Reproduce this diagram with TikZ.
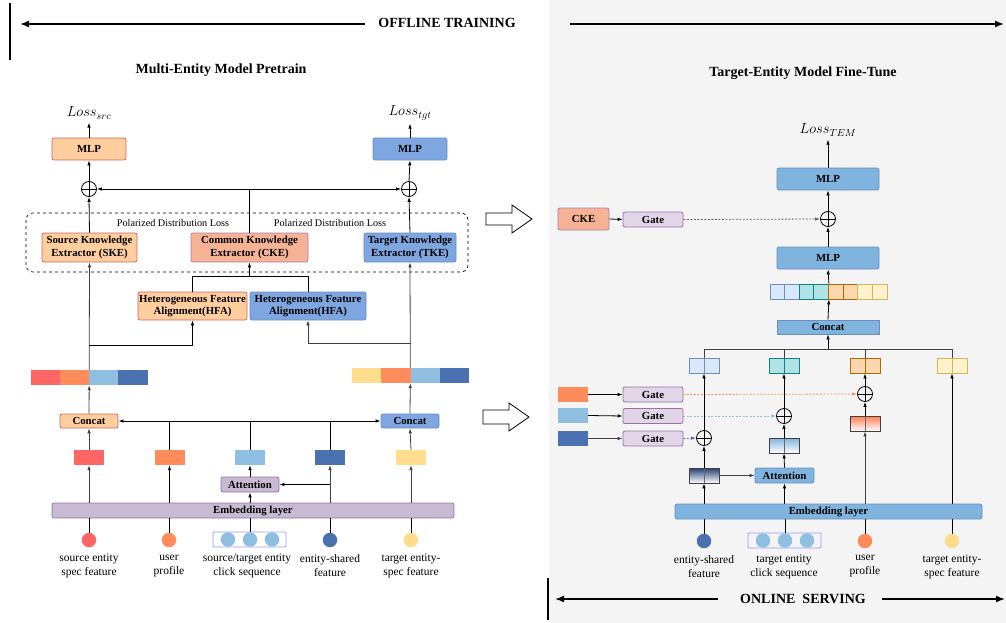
\RequirePackage{fix-cm}
\documentclass[tikz,border=0pt]{standalone}
\usepackage{fontspec}
\setmainfont{Liberation Serif}
\usetikzlibrary{arrows.meta,calc,positioning}
\definecolor{srcred}{HTML}{FF6666}
\definecolor{usrorange}{HTML}{FF8C5A}
\definecolor{seqblue}{HTML}{8FBFE0}
\definecolor{sharedblue}{HTML}{4A72B0}
\definecolor{tgtyellow}{HTML}{FFDD8C}
\definecolor{peachfill}{HTML}{FFCE9F}
\definecolor{peachdraw}{HTML}{CC6666}
\definecolor{tkefill}{HTML}{7EA6E0}
\definecolor{tkedraw}{HTML}{6C8EBF}
\definecolor{ckefill}{HTML}{F5B294}
\definecolor{ckedraw}{HTML}{A680B8}
\definecolor{lilac}{HTML}{C8BAD2}
\definecolor{lilacdraw}{HTML}{9673A6}
\definecolor{ftblue}{HTML}{7EB4DE}
\definecolor{gatefill}{HTML}{E1D5E7}
\definecolor{panelgray}{HTML}{F4F4F4}
\definecolor{seqframe}{HTML}{9999FF}
\definecolor{cellblue}{HTML}{DAE8FC}
\definecolor{cellteal}{HTML}{B0E3E6}
\definecolor{tealdraw}{HTML}{0E8088}
\definecolor{cellorange}{HTML}{FAD7AC}
\definecolor{orangedraw}{HTML}{B46504}
\definecolor{cellyellow}{HTML}{FFF2CC}
\definecolor{yellowdraw}{HTML}{D6B656}
\definecolor{navytop}{HTML}{233E72}
\definecolor{salmontop}{HTML}{FF7F55}
\newcommand{\boxfont}{\fontsize{10.8}{12.5}\selectfont\bfseries}
\newcommand{\labfont}{\fontsize{11.5}{14}\selectfont}
\newcommand{\titlefont}{\fontsize{14}{16}\selectfont\bfseries}
\newcommand{\lossfont}{\fontsize{14.5}{16}\selectfont}

\tikzset{
  box/.style={draw, rounded corners=2pt, inner sep=0pt, align=center,
    font=\boxfont, line width=0.8pt},
  srcbox/.style={box, fill=peachfill, draw=peachdraw},
  tgtbox/.style={box, fill=tkefill, draw=tkedraw},
  lilacbox/.style={box, fill=lilac, draw=lilacdraw},
  ftbox/.style={box, fill=ftblue, draw=tkedraw},
  gatebox/.style={box, fill=gatefill, draw=lilacdraw,
    minimum width=60pt, minimum height=15pt},
  feat/.style={minimum width=30pt, minimum height=15pt, inner sep=0pt, fill=#1},
  split/.style={path picture={\draw[#1, line width=0.8pt]
    (path picture bounding box.north) -- (path picture bounding box.south);}},
  cell/.style 2 args={minimum width=30pt, minimum height=15pt, inner sep=0pt,
    fill=#1, draw=#2, line width=0.8pt, split=#2},
  gradbox/.style={minimum width=30pt, minimum height=15pt, inner sep=0pt,
    draw=black!75, line width=0.8pt, top color=#1, bottom color=white, split=black!60},
  dot/.style={circle, minimum size=14.5pt, inner sep=0pt, fill=#1},
  sum/.style={circle, draw, minimum size=15pt, inner sep=0pt, line width=0.8pt,
    path picture={\draw (path picture bounding box.north) -- (path picture bounding box.south)
      (path picture bounding box.west) -- (path picture bounding box.east);}},
  arr/.style={-{Latex[length=5pt,width=3.5pt]}, line width=0.8pt},
  gatearr/.style={arr, dash pattern=on 2pt off 1.5pt, draw=#1},
  lab/.style={font=\labfont, align=center},
  timeline/.style={-{Latex[length=9pt,width=7pt]}, line width=1.5pt},
}

\begin{document}
\begin{tikzpicture}[x=1pt,y=-1pt]
  \useasboundingbox (0,0) rectangle (1006,623);
  \fill[panelgray] (549,0) rectangle (1006,623);

  % phase lines
  \draw[line width=1.6pt] (10,3) -- (10,60);
  \node[font=\titlefont] (offline) at (447,23) {OFFLINE TRAINING};
  \coordinate (offa) at (365,24);
  \coordinate (offl) at (20,24);
  \coordinate (offb) at (570,24);
  \coordinate (offr) at (1004,24);
  \draw[timeline] (offa) -- (offl);
  \draw[timeline] (offb) -- (offr);
  \draw[line width=1.6pt] (548,578) -- (548,620);
  \node[font=\titlefont] (online) at (803,599) {ONLINE\ \ SERVING};
  \coordinate (ona) at (718,599);
  \coordinate (onl) at (555,599);
  \coordinate (onb) at (882,599);
  \coordinate (onr) at (1005,599);
  \draw[timeline] (ona) -- (onl);
  \draw[timeline] (onb) -- (onr);

  \node[font=\titlefont] (pretrain) at (221,70) {Multi-Entity Model Pretrain};
  \node[font=\titlefont] (finetune) at (803,73) {Target-Entity Model Fine-Tune};

  % ---------------- pretrain ----------------
  \node[font=\lossfont] (losssrc) at (89,113) {$Loss_{src}$};
  \node[font=\lossfont] (losstgt) at (410,113) {$Loss_{tgt}$};
  \node[srcbox, minimum width=74pt, minimum height=22pt] (mlpsrc) at (89,149) {MLP};
  \node[tgtbox, minimum width=74pt, minimum height=22pt] (mlptgt) at (410,149) {MLP};
  \node[sum] (sumsrc) at (89,189) {};
  \node[sum] (sumtgt) at (409,189) {};
  \draw[dashed, rounded corners=7pt, line width=0.6pt] (26,213) rectangle (468,272);
  \node[font=\fontsize{10.2}{12}\selectfont] (pdla) at (173,223) {Polarized Distribution Loss};
  \node[font=\fontsize{10.2}{12}\selectfont] (pdlb) at (330,223) {Polarized Distribution Loss};
  \node[srcbox, minimum width=95pt, minimum height=29pt] (ske) at (89.5,247.5)
    {Source Knowledge\\Extractor (SKE)};
  \node[box, fill=ckefill, draw=ckedraw, minimum width=117pt, minimum height=29pt] (cke)
    at (249.5,247.5) {Common Knowledge\\Extractor (CKE)};
  \node[tgtbox, minimum width=92pt, minimum height=29pt] (tke) at (410,247.5)
    {Target Knowledge\\Extractor (TKE)};
  \node[srcbox, minimum width=109pt, minimum height=28pt] (hfas) at (192.5,306)
    {Heterogeneous Feature\\Alignment(HFA)};
  \node[tgtbox, minimum width=116pt, minimum height=28pt] (hfat) at (308,306)
    {Heterogeneous Feature\\Alignment(HFA)};
  \foreach \c [count=\i] in {srcred,usrorange,seqblue,sharedblue}
    \node[feat=\c, minimum width=29.25pt] (bars\i) at ({30.5+14.625+29.25*(\i-1)},377.5) {};
  \foreach \c [count=\i] in {tgtyellow,usrorange,seqblue,sharedblue}
    \node[feat=\c, minimum width=29.25pt] (bart\i) at ({352+14.625+29.25*(\i-1)},375.5) {};
  \node[srcbox, minimum width=58pt, minimum height=14pt] (concats) at (89,421) {Concat};
  \node[tgtbox, minimum width=58pt, minimum height=14pt] (concatt) at (410,421) {Concat};
  \node[feat=srcred] (f1) at (89,457.5) {};
  \node[feat=usrorange] (f2) at (169.5,457.5) {};
  \node[feat=seqblue] (f3) at (250,457.5) {};
  \node[feat=sharedblue] (f4) at (330,457.5) {};
  \node[feat=tgtyellow] (f5) at (411,457.5) {};
  \node[lilacbox, minimum width=58pt, minimum height=15pt] (att) at (250,484.5) {Attention};
  \node[lilacbox, minimum width=402pt, minimum height=15pt] (emb) at (253,510.5) {Embedding layer};
  \node[dot=srcred] (c1) at (89,540) {};
  \node[dot=usrorange] (c2) at (169,540) {};
  \node[draw=seqframe, rounded corners=1pt, minimum width=73pt, minimum height=15pt,
    inner sep=0pt, line width=0.8pt] (seqs) at (249.5,539.5) {};
  \foreach \x [count=\i] in {228,250,272}
    \node[dot=seqblue] (seqs\i) at (\x,539.5) {};
  \node[dot=sharedblue] (c4) at (330,540) {};
  \node[dot=tgtyellow] (c5) at (411,540) {};
  \node[lab] (l1) at (89,566) {source entity\\spec feature};
  \node[lab] (l2) at (169,566) {user\\profile};
  \node[lab] (l3) at (247,566) {source/target entity\\click sequence};
  \node[lab] (l4) at (330,566) {entity-shared\\feature};
  \node[lab] (l5) at (411,566) {target entity-\\spec feature};

  \draw[arr] (mlpsrc.north) -- (losssrc.south);
  \draw[arr] (mlptgt.north) -- (losstgt.south);
  \draw[arr] (sumsrc.north) -- (mlpsrc.south);
  \draw[arr] (sumtgt.north) -- (mlptgt.south);
  \draw[arr] (ske.north) -- (sumsrc.south);
  \draw[arr] (tke.north) -- (sumtgt.south);
  \draw[arr] (cke.north) |- (sumsrc.east);
  \draw[arr] (cke.north) |- (sumtgt.west);
  \draw[line width=0.8pt] (hfas.north) -- ++(0,-15) coordinate (hfaj) -| (hfat.north);
  \draw[arr] (hfaj -| cke.south) -- (cke.south);
  \coordinate (jsrc) at (89,345);
  \coordinate (jtgt) at (410.5,343);
  \draw[arr, draw=black!75] (bars2.north east) -- (ske.south);
  \draw[arr] (jsrc) -| (hfas.south);
  \draw[arr, draw=black!75] (bart3.north west) -- (tke.south);
  \draw[arr, draw=black!75] (jtgt) -| (hfat.south);
  \draw[arr, draw=black!75] (concats.north) -- (bars2.south east);
  \draw[arr, draw=black!75] (concatt.north) -- (bart3.south west);
  \draw[arr] (f3.north) |- (concats.east);
  \draw[arr] (f3.north) |- (concatt.west);
  \draw[line width=0.8pt] (f2.north) -- (f2.north |- concats.east);
  \draw[line width=0.8pt] (f4.north) -- (f4.north |- concatt.west);
  \draw[arr, draw=black!75] (f1.north) -- (concats.south);
  \draw[arr, draw=black!75] (f5.north) -- (concatt.south);
  \draw[arr, draw=black!75] (f1 |- emb.north) -- (f1.south);
  \draw[arr] (f2 |- emb.north) -- (f2.south);
  \draw[arr, draw=black!75] (f4 |- emb.north) -- (f4.south);
  \draw[arr, draw=black!75] (f5 |- emb.north) -- (f5.south);
  \draw[arr] (att |- emb.north) -- (att.south);
  \draw[arr] (att.north) -- (f3.south);
  \draw[arr] (f4 |- att.east) -- (att.east);
  \draw[line width=0.8pt] (c1.north) -- (c1 |- emb.south);
  \draw[line width=0.8pt] (c2.north) -- (c2 |- emb.south);
  \draw[line width=0.8pt] (seqs2.north) -- (seqs2 |- emb.south);
  \draw[line width=0.8pt] (c4.north) -- (c4 |- emb.south);
  \draw[line width=0.8pt] (c5.north) -- (c5 |- emb.south);

  % hand-over arrows
  \draw[fill=white, line width=0.8pt] (486,213) -- (512,213) -- (512,205) -- (532,219)
    -- (512,233) -- (512,225) -- (486,225) -- cycle;
  \draw[fill=white, line width=0.8pt] (483,410) -- (509,410) -- (509,403) -- (529,417)
    -- (509,431) -- (509,424) -- (483,424) -- cycle;

  % ---------------- fine-tune ----------------
  \node[font=\lossfont] (losstem) at (828,130) {$Loss_{TEM}$};
  \node[ftbox, minimum width=102pt, minimum height=22pt] (mlpa) at (828,179) {MLP};
  \node[sum] (sumtem) at (828,219) {};
  \node[box, fill=ckefill, draw=ckedraw, minimum width=51pt, minimum height=22pt] (ckeft)
    at (583.5,219) {CKE};
  \node[gatebox] (gate0) at (653,219.5) {Gate};
  \node[ftbox, minimum width=102pt, minimum height=22pt] (mlpb) at (828,258) {MLP};
  \foreach \f/\d [count=\i] in {cellblue/tkedraw,cellblue/tkedraw,cellteal/tealdraw,
      cellteal/tealdraw,cellorange/orangedraw,cellorange/orangedraw,
      cellyellow/yellowdraw,cellyellow/yellowdraw}
    \node[minimum width=14.625pt, minimum height=15pt, inner sep=0pt, fill=\f, draw=\d,
      line width=0.8pt] (st\i) at ({770+7.3125+14.625*(\i-1)},291.5) {};
  \node[ftbox, rounded corners=0pt, minimum width=102pt, minimum height=14pt] (concatft)
    at (828,327) {Concat};
  \coordinate (bus) at (828,349);
  \foreach \x/\f/\d [count=\i] in {704/cellblue/tkedraw,784/cellteal/tealdraw,
      865/cellorange/orangedraw,952/cellyellow/yellowdraw}
    \node[cell={\f}{\d}] (top\i) at (\x,365.5) {};
  \node[feat=usrorange] (r1) at (573,394.5) {};
  \node[feat=seqblue] (r2) at (573,415.5) {};
  \node[feat=sharedblue] (r3) at (573,438.5) {};
  \node[gatebox] (g1) at (653,394.5) {Gate};
  \node[gatebox] (g2) at (653,416) {Gate};
  \node[gatebox] (g3) at (653,438.5) {Gate};
  \node[sum] (s3) at (865,394) {};
  \node[sum] (s2) at (784,416) {};
  \node[sum] (s1) at (704,438) {};
  \node[gradbox=navytop] (gb1) at (704,475.5) {};
  \node[gradbox=ftblue] (gb2) at (784,445.5) {};
  \node[gradbox=salmontop] (gb3) at (865,423.5) {};
  \node[ftbox, minimum width=59pt, minimum height=15pt] (att2) at (784.5,475.5) {Attention};
  \node[ftbox, minimum width=307pt, minimum height=15pt] (emb2) at (828.5,511.5) {Embedding layer};
  \node[dot=sharedblue] (d1) at (704,541) {};
  \node[draw=seqframe, rounded corners=1pt, minimum width=73pt, minimum height=15pt,
    inner sep=0pt, line width=0.8pt] (seqt) at (784.5,540.5) {};
  \foreach \x [count=\i] in {763,785,807}
    \node[dot=seqblue] (seqt\i) at (\x,540.5) {};
  \node[dot=usrorange] (d3) at (865,541) {};
  \node[dot=tgtyellow] (d4) at (952,541) {};
  \node[lab] (m1) at (704,566.5) {entity-shared\\feature};
  \node[lab] (m2) at (784,566.5) {target entity\\click sequence};
  \node[lab] (m3) at (865,566.5) {user\\profile};
  \node[lab] (m4) at (952,566.5) {target entity-\\spec feature};

  \draw[arr] (mlpa.north) -- (losstem.south);
  \draw[arr] (sumtem.north) -- (mlpa.south);
  \draw[arr] (mlpb.north) -- (sumtem.south);
  \draw[arr] (ckeft.east) -- (gate0.west);
  \draw[gatearr=black!60] (gate0.east) -- (sumtem.west);
  \draw[arr] (st4.north east) -- (mlpb.south);
  \draw[arr] (concatft.north) -- (st4.south east);
  \draw[arr] (bus) -- (concatft.south);
  \draw[line width=0.8pt, draw=black!75] (top1.north) -- (top1.north |- bus)
    -- (top4.north |- bus) -- (top4.north);
  \draw[line width=0.8pt, draw=black!75] (top2.north) -- (top2.north |- bus);
  \draw[line width=0.8pt, draw=black!75] (top3.north) -- (top3.north |- bus);
  \draw[arr] (r1.east) -- (g1.west);
  \draw[arr] (r2.east) -- (g2.west);
  \draw[arr, draw=black!75] (r3.east) -- (g3.west);
  \draw[gatearr=usrorange] (g1.east) -- (s3.west);
  \draw[gatearr=seqblue] (g2.east) -- (s2.west);
  \draw[gatearr=sharedblue] (g3.east) -- (s1.west);
  \draw[arr] (gb1 |- emb2.north) -- (gb1.south);
  \draw[arr] (gb1.north) -- (s1.south);
  \draw[arr] (s1.north) -- (top1.south);
  \draw[arr, draw=black!75] (gb1.east) -- (att2.west);
  \draw[arr] (att2 |- emb2.north) -- (att2.south);
  \draw[arr] (att2.north) -- (gb2.south);
  \draw[arr] (gb2.north) -- (s2.south);
  \draw[arr] (s2.north) -- (top2.south);
  \draw[arr, draw=black!75] (gb3 |- emb2.north) -- (gb3.south);
  \draw[arr] (gb3.north) -- (s3.south);
  \draw[arr] (s3.north) -- (top3.south);
  \draw[arr] (top4 |- emb2.north) -- (top4.south);
  \draw[line width=0.8pt] (d1.north) -- (d1 |- emb2.south);
  \draw[line width=0.8pt] (seqt2.north) -- (seqt2 |- emb2.south);
  \draw[line width=0.8pt] (d3.north) -- (d3 |- emb2.south);
  \draw[line width=0.8pt] (d4.north) -- (d4 |- emb2.south);
\end{tikzpicture}
\end{document}
